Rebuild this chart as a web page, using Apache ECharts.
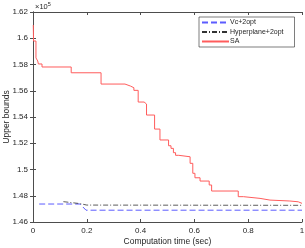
<!DOCTYPE html>
<html><head><meta charset="utf-8">
<script src="https://cdn.jsdelivr.net/npm/echarts@6/dist/echarts.min.js"></script>
<style>html,body{margin:0;padding:0;background:#fff}#c{width:305px;height:248px}</style>
</head><body><div id="c"></div>
<script>
// SA: [time, upper bound]
const saTime = [0.001,0.002,0.011,0.0175,0.020,0.0335,0.142,0.253,0.342,0.362,0.375,0.391,0.413,0.422,0.452,0.472,0.504,0.513,0.522,0.530,0.542,0.584,0.594,0.602,0.621,0.655,0.664,0.763,0.782,0.844,0.881,0.955,0.986,1.0];
const saValue = [161010,159790,158500,158270,158040,157810,157370,156510,156360,156230,156030,155140,154990,154150,153080,152250,151810,151610,151280,151080,150970,150470,149710,149370,149120,148820,148360,147930,147800,147670,147600,147540,147420,147420];
const vcTime = [0.023,0.175,0.197,1.0];
const vcValue = [147370,147370,146900,146900];
const hpTime = [0.113,0.175,0.200,1.0];
const hpValue = [147550,147400,147290,147270];
const xTicks = [0,0.2,0.4,0.6,0.8,1];
const yTicks = [146000,148000,150000,152000,154000,156000,158000,160000,162000];
const seriesNames = ['Vc+2opt','Hyperplane+2opt','SA'];

const pair = (t,v)=>t.map((x,i)=>[x,v[i]]);
const chart = echarts.init(document.getElementById('c'));
const font = 'Liberation Sans, Arial, sans-serif';
const axCol = '#4d4d4d';
const common = {
  axisLine:{show:true,lineStyle:{color:axCol,width:1}},
  axisTick:{show:true,inside:true,length:3,lineStyle:{color:axCol}},
  splitLine:{show:false}
};
chart.setOption({
  animation:false,
  textStyle:{fontFamily:font},
  grid:{left:33,right:3,top:12,bottom:26,show:false,containLabel:false,outerBoundsMode:'none'},
  xAxis:[
    Object.assign({type:'value',min:0,max:1,interval:0.2,position:'bottom',
      axisLabel:{color:'#262626',fontSize:8,margin:5,fontFamily:font,formatter:v=>String(+v.toFixed(1))},
      name:'Computation time (sec)',nameLocation:'middle',nameGap:15,nameMoveOverlap:false,
      nameTextStyle:{color:'#262626',fontSize:8.5,fontFamily:font}},common),
    Object.assign({type:'value',min:0,max:1,interval:0.2,position:'top',axisLabel:{show:false}},common)
  ],
  yAxis:[
    Object.assign({type:'value',min:146000,max:162000,interval:2000,position:'left',
      axisLabel:{color:'#262626',fontSize:8,margin:5,fontFamily:font,formatter:v=>String(+(v/1e5).toFixed(2))},
      name:'Upper bounds',nameLocation:'middle',nameGap:22,nameMoveOverlap:false,
      nameTextStyle:{color:'#262626',fontSize:8.5,fontFamily:font}},common),
    Object.assign({type:'value',min:146000,max:162000,interval:2000,position:'right',axisLabel:{show:false}},common)
  ],
  legend:{
    orient:'vertical',left:199,top:17,width:96,
    data:seriesNames,
    backgroundColor:'#fff',borderColor:'#262626',borderWidth:0.6,borderRadius:0,
    padding:[2,11,2,2],itemGap:2.5,itemWidth:27,itemHeight:7,
    itemStyle:{opacity:0},
    textStyle:{fontSize:7,color:'#262626',fontFamily:font,padding:[0,0,0,-4]}
  },
  graphic:[{type:'text',left:35,top:1,style:{
    text:'{a|×10}{b|5}',rich:{a:{fontSize:7.5,fill:'#262626',fontFamily:font},b:{fontSize:5.5,fill:'#262626',fontFamily:font,verticalAlign:'top',padding:[0,0,6,0]}}}}],
  series:[
    {name:seriesNames[0],type:'line',data:pair(vcTime,vcValue),symbol:'none',
      lineStyle:{color:'#5c5cff',width:1,type:[6,3]},itemStyle:{color:'#5c5cff'}},
    {name:seriesNames[1],type:'line',data:pair(hpTime,hpValue),symbol:'none',
      lineStyle:{color:'#333',width:0.8,type:[5,2,1,2]},itemStyle:{color:'#333'}},
    {name:seriesNames[2],type:'line',step:'end',data:pair(saTime,saValue),symbol:'none',
      lineStyle:{color:'#ff5c5c',width:1},itemStyle:{color:'#ff5c5c'}}
  ]
});
</script></body></html>
